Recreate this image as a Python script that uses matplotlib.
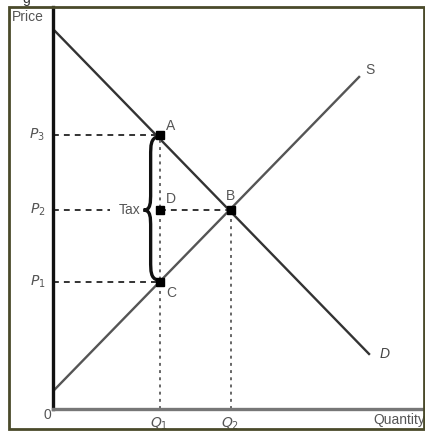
import numpy as np
import matplotlib
matplotlib.use("Agg")
from matplotlib import pyplot as plt
from matplotlib.path import Path
from matplotlib.patches import PathPatch, Rectangle

plt.rcParams['font.family'] = ['Liberation Sans', 'DejaVu Sans']

#------------------------------------------------------------
# curve end points (quantity, price)
demand_q = [0.0, 8.9]
demand_p = [10.7, 1.55]
supply_q = [0.0, 8.62]
supply_p = [0.5, 9.35]

# marked points
point_names = ['A', 'B', 'C', 'D']
point_q = [3.0, 5.0, 3.0, 3.0]
point_p = [7.72, 5.6, 3.58, 5.6]

# guide levels
price_levels = [7.72, 5.6, 3.58]
price_labels = ['$P_3$', '$P_2$', '$P_1$']
qty_levels = [3.0, 5.0]
qty_labels = ['$Q_1$', '$Q_2$']

xmax, ymax = 10.42, 11.32

#------------------------------------------------------------
fig = plt.figure(figsize=(4.25, 4.32), dpi=100)
ax = fig.add_axes([53 / 425, 23 / 432, 370 / 425, 402 / 432])
ax.set_xlim(0, xmax)
ax.set_ylim(0, ymax)
ax.set_xticks([])
ax.set_yticks([])
for s in ['top', 'right']:
    ax.spines[s].set_visible(False)
ax.spines['left'].set_linewidth(2.4)
ax.spines['left'].set_color('#111111')
ax.spines['bottom'].set_linewidth(2.4)
ax.spines['bottom'].set_color('#777777')

# supply and demand
ax.plot(demand_q, demand_p, c='#333333', lw=1.7)
ax.plot(supply_q, supply_p, c='#555555', lw=1.7)

# dashed guides
txt_gray = '#555555'
fs = 10
dash_h = dict(c='#333333', lw=1.4, ls=(0, (3.0, 2.6)))
dash_v = dict(c='#666666', lw=1.4, ls=(0, (1.5, 2.2)))
ax.plot([0, point_q[0]], [price_levels[0]] * 2, **dash_h)
ax.plot([0, 1.6], [price_levels[1]] * 2, **dash_h)
ax.plot([point_q[3], point_q[1]], [price_levels[1]] * 2, **dash_h)
ax.plot([0, point_q[2]], [price_levels[2]] * 2, **dash_h)
ax.plot([qty_levels[0]] * 2, [0, price_levels[0]], **dash_v)
ax.plot([qty_levels[1]] * 2, [0, price_levels[1]], **dash_v)

# brace for the tax
qa, pa = point_q[0], point_p[0]
qc, pc = point_q[2], point_p[2]
pm = point_p[3]
xb = qa - 0.25
xt = qa - 0.45
verts = [(qa - 0.05, pa - 0.05), (xb, pa - 0.1), (xb, pa - 0.3), (xb, pa - 0.6),
         (xb, pm + 0.5),
         (xb, pm + 0.2), (xb, pm), (xt, pm),
         (xb, pm), (xb, pm - 0.2), (xb, pm - 0.5),
         (xb, pc + 0.6),
         (xb, pc + 0.3), (xb, pc + 0.1), (qc - 0.05, pc + 0.05)]
codes = [Path.MOVETO, Path.CURVE4, Path.CURVE4, Path.CURVE4,
         Path.LINETO,
         Path.CURVE4, Path.CURVE4, Path.CURVE4,
         Path.CURVE4, Path.CURVE4, Path.CURVE4,
         Path.LINETO,
         Path.CURVE4, Path.CURVE4, Path.CURVE4]
ax.add_patch(PathPatch(Path(verts, codes), fc='none', ec='#111111', lw=2.4))

ax.plot(point_q, point_p, 's', c='black', ms=5.5, zorder=5)

# point labels
offsets = {'A': (0.32, 0.25), 'B': (0.0, 0.4), 'C': (0.32, -0.3), 'D': (0.32, 0.3)}
for name, q, p in zip(point_names, point_q, point_p):
    dx, dy = offsets[name]
    ax.text(q + dx, p + dy, name, fontsize=fs, color=txt_gray,
            ha='center', va='center')
ax.text(qa - 0.53, pm, 'Tax', fontsize=fs, color=txt_gray, ha='right', va='center')

ax.text(demand_q[1] + 0.45, demand_p[1], 'D', fontsize=fs, style='italic',
        color='#444444', ha='center', va='center')
ax.text(supply_q[1] + 0.32, supply_p[1] + 0.2, 'S', fontsize=fs,
        color=txt_gray, ha='center', va='center')

# axis labels
for lvl, lab in zip(price_levels, price_labels):
    ax.text(-0.22, lvl, lab, fontsize=fs, color=txt_gray, ha='right', va='center',
            clip_on=False)
for lvl, lab in zip(qty_levels, qty_labels):
    ax.text(lvl, -0.42, lab, fontsize=fs, color=txt_gray, ha='center', va='center',
            clip_on=False)
ax.text(-0.17, -0.18, '0', fontsize=fs, color=txt_gray, ha='center', va='center',
        clip_on=False)
ax.text(xmax + 0.05, -0.3, 'Quantity', fontsize=fs, color=txt_gray,
        ha='right', va='center', clip_on=False)
ax.text(-1.17, ymax - 0.27, 'Price', fontsize=fs, color=txt_gray,
        ha='left', va='center', clip_on=False)

# outer frame
fig.patches.append(Rectangle((8.5 / 425, 3 / 432), 415 / 425, 422 / 432,
                             transform=fig.transFigure, fill=False,
                             ec='#4a4a2a', lw=2.0))
fig.text(26 / 425, 433 / 432, 'g', fontsize=10, color='#333333',
         ha='center', va='center')

fig.savefig('out.png', dpi=100)
